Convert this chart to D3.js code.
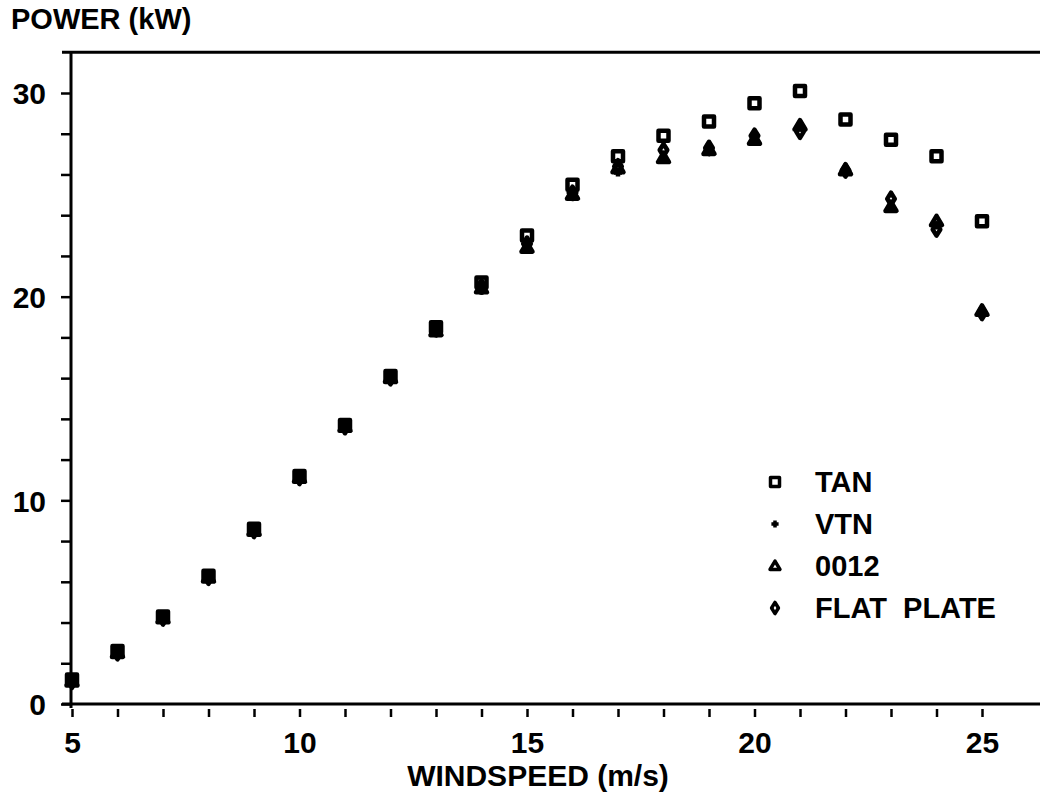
<!DOCTYPE html>
<html>
<head>
<meta charset="utf-8">
<script src="https://cdn.jsdelivr.net/npm/d3@7"></script>
<style>
  html, body { margin: 0; padding: 0; background: #fff; }
  text { font-family: "Liberation Sans", Arial, Helvetica, sans-serif; font-weight: bold; fill: #000; }
</style>
</head>
<body>
<div id="chart"></div>
<script>
// datos (potencia en kW vs velocidad del viento)
const windspeed = [5, 6, 7, 8, 9, 10, 11, 12, 13, 14, 15, 16, 17, 18, 19, 20, 21, 22, 23, 24, 25];
const tan       = [1.2, 2.6, 4.3, 6.3, 8.6, 11.2, 13.7, 16.1, 18.5, 20.7, 23.0, 25.5, 26.9, 27.9, 28.6, 29.5, 30.1, 28.7, 27.7, 26.9, 23.7];
const vtn       = [1.1, 2.5, 4.2, 6.2, 8.5, 11.1, 13.6, 16.0, 18.3, 20.3, 22.4, 24.9, 26.1, 26.8, 27.2, 27.8, 28.3, 26.2, 24.3, 23.5, 19.2];
const naca0012  = [1.1, 2.5, 4.2, 6.2, 8.5, 11.1, 13.6, 16.0, 18.3, 20.4, 22.4, 25.0, 26.3, 26.8, 27.2, 27.7, 28.4, 26.2, 24.4, 23.7, 19.3];
const flatPlate = [1.1, 2.5, 4.2, 6.2, 8.5, 11.1, 13.6, 16.0, 18.4, 20.5, 22.6, 25.1, 26.4, 27.2, 27.3, 27.9, 28.1, 26.2, 24.8, 23.3, 19.2];

const seriesNames = ["TAN", "VTN", "0012", "FLAT  PLATE"];
const seriesValues = [tan, vtn, naca0012, flatPlate];
const symbols = ["square", "plus", "triangle", "diamond"];

const xTicks = [5, 6, 7, 8, 9, 10, 11, 12, 13, 14, 15, 16, 17, 18, 19, 20, 21, 22, 23, 24, 25];
const xLabels = [5, 10, 15, 20, 25];
const yTicks = [0, 2, 4, 6, 8, 10, 12, 14, 16, 18, 20, 22, 24, 26, 28, 30];
const yLabels = [0, 10, 20, 30];

const WIDTH = 1040;
const HEIGHT = 808;

const svg = d3.select("#chart").append("svg").attr("width", WIDTH).attr("height", HEIGHT);

// escalas
const x = d3.scaleLinear().domain([5, 25]).range([72, 982]);
const y = d3.scaleLinear().domain([0, 30]).range([704, 93]);
const yTop = y(32);

// ejes
const xAxis = d3.axisBottom(x).tickValues(xTicks).tickSize(13).tickPadding(15)
    .tickFormat(d => xLabels.includes(d) ? d : "");
const gx = svg.append("g").attr("transform", `translate(0, ${y(0)})`).call(xAxis);
gx.select(".domain").remove();
gx.selectAll(".tick line").attr("stroke", "#000").attr("stroke-width", 2.5).attr("y1", 5);
gx.selectAll(".tick text").attr("font-size", 30).attr("font-family", null);

const yAxis = d3.axisLeft(y).tickValues(yTicks).tickSize(10).tickPadding(15)
    .tickFormat(d => yLabels.includes(d) ? d : "");
const gy = svg.append("g").attr("transform", `translate(${x(5) - 1}, 0)`).call(yAxis);
gy.select(".domain").remove();
gy.selectAll(".tick line").attr("stroke", "#000").attr("stroke-width", 2.5);
gy.selectAll(".tick text").attr("font-size", 30).attr("font-family", null).attr("dy", "0.36em");

// marco: arriba, izquierda, abajo
svg.append("line").attr("x1", x(5) - 10).attr("x2", WIDTH).attr("y1", yTop).attr("y2", yTop)
    .attr("stroke", "#000").attr("stroke-width", 3);
svg.append("line").attr("x1", x(5) - 1).attr("x2", x(5) - 1).attr("y1", yTop).attr("y2", y(0) + 4)
    .attr("stroke", "#000").attr("stroke-width", 3);
svg.append("line").attr("x1", x(5) - 10).attr("x2", WIDTH).attr("y1", y(0)).attr("y2", y(0))
    .attr("stroke", "#000").attr("stroke-width", 3);

// titulos
svg.append("text").text("POWER (kW)").attr("x", 11).attr("y", 29).attr("font-size", 29);
svg.append("text").text("WINDSPEED (m/s)").attr("x", 538).attr("y", 786)
    .attr("text-anchor", "middle").attr("font-size", 30);

// marcadores
function marker(g, type, s) {
    if (type == "square") {
        g.append("rect").attr("x", -s / 2).attr("y", -s / 2).attr("width", s).attr("height", s);
    } else if (type == "plus") {
        const h = s * 0.4;
        g.append("path").attr("d", `M${-h},0H${h}M0,${-h}V${h}`);
    } else if (type == "triangle") {
        const h = s * 0.55;
        g.append("path").attr("d", `M0,${-h}L${h},${h * 0.7}L${-h},${h * 0.7}Z`);
    } else if (type == "diamond") {
        const w = s * 0.38, h = s * 0.62;
        g.append("path").attr("d", `M0,${-h}L${w},0L0,${h}L${-w},0Z`);
    }
}

const puntos = [];
seriesValues.forEach((vals, i) => {
    vals.forEach((v, j) => puntos.push({ serie: i, ws: windspeed[j], p: v }));
});

svg.selectAll(".punto").data(puntos).join("g")
    .attr("class", "punto")
    .attr("transform", d => `translate(${x(d.ws)}, ${y(d.p)})`)
    .attr("fill", "none").attr("stroke", "#000").attr("stroke-width", 4.5)
    .attr("stroke-linejoin", "round")
    .each(function (d) { marker(d3.select(this), symbols[d.serie], 10); });

// leyenda
const legend = svg.selectAll(".leyenda").data(seriesNames).join("g")
    .attr("class", "leyenda")
    .attr("transform", (d, i) => `translate(775, ${482 + i * 42})`);
legend.each(function (d, i) {
    const g = d3.select(this).append("g").attr("fill", "none").attr("stroke", "#000")
        .attr("stroke-width", 3.5).attr("stroke-linejoin", "round");
    marker(g, symbols[i], 9);
});
legend.append("text").text(d => d).attr("x", 40).attr("dy", "0.36em").attr("font-size", 29)
    .style("white-space", "pre");
</script>
</body>
</html>
